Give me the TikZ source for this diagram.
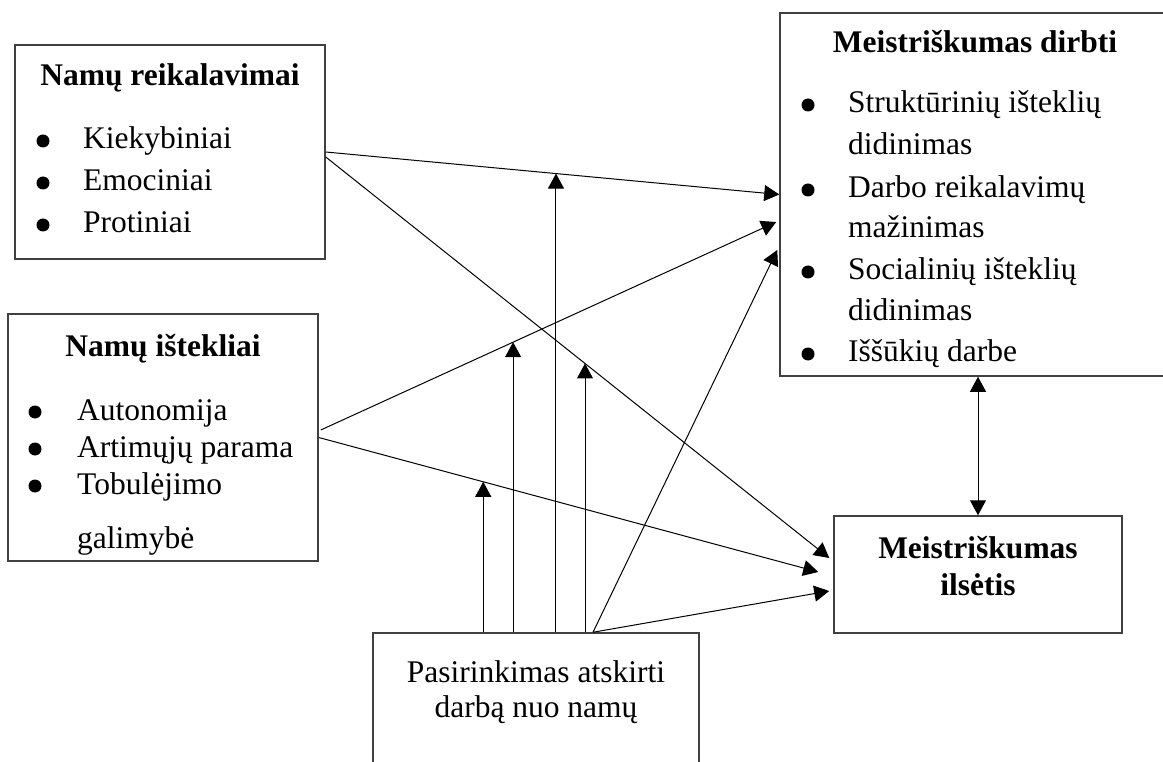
\documentclass[tikz,border=0pt]{standalone}
\usepackage{fontspec}
\setmainfont{Liberation Serif}
\usetikzlibrary{arrows.meta,calc}
\begin{document}
\begin{tikzpicture}[x=1pt,y=-1pt,
  box/.style={draw=black!75, line width=1.5pt, rectangle, inner sep=0pt},
  txt/.style={anchor=base west, inner sep=0pt, font=\fontsize{31.5}{37}\selectfont},
  ttl/.style={anchor=base, inner sep=0pt, font=\fontsize{31.5}{37}\selectfont\bfseries},
  ctr/.style={anchor=base, inner sep=0pt, font=\fontsize{31.5}{37}\selectfont},
  dot/.style={circle, fill=black, draw=none, inner sep=0pt, minimum size=13pt},
  arr/.style={line width=1pt, -{Triangle[length=15pt,width=16pt]}},
  darr/.style={line width=1pt, {Triangle[length=15pt,width=16pt]}-{Triangle[length=15pt,width=16pt]}}]
\useasboundingbox (0,0) rectangle (1163,762);
\clip (0,0) rectangle (1163,762);

% boxes
\node[box, minimum width=310pt, minimum height=214pt] (b1) at (170,152) {};
\node[box, minimum width=310pt, minimum height=247pt] (b2) at (163,437.5) {};
\node[box, minimum width=390pt, minimum height=363pt] (b3) at (975,194.5) {};
\node[box, minimum width=288pt, minimum height=117pt] (b4) at (978,574.5) {};
\node[box, minimum width=326pt, minimum height=167pt] (b5) at (536,716.5) {};

% box 1 text
\node[ttl] (t1) at (170,86) {Namų reikalavimai};
\node[dot] (t1b1) at (43,141) {};
\node[txt] (t1i1) at (83,149) {Kiekybiniai};
\node[dot] (t1b2) at (43,183) {};
\node[txt] (t1i2) at (83,191) {Emociniai};
\node[dot] (t1b3) at (43,225) {};
\node[txt] (t1i3) at (83,233) {Protiniai};

% box 2 text
\node[ttl] (t2) at (163,356) {Namų ištekliai};
\node[dot] (t2b1) at (35,412) {};
\node[txt] (t2i1) at (77,420) {Autonomija};
\node[dot] (t2b2) at (35,449) {};
\node[txt] (t2i2) at (77,457) {Artimųjų parama};
\node[dot] (t2b3) at (35,486) {};
\node[txt] (t2i3) at (77,494) {Tobulėjimo};
\node[txt] (t2i4) at (77,548) {galimybė};

% box 3 text
\node[ttl] (t3) at (975,53) {Meistriškumas dirbti};
\node[dot] (t3b1) at (808,105) {};
\node[txt] (t3i1) at (848,113) {Struktūrinių išteklių};
\node[txt] (t3i2) at (848,155) {didinimas};
\node[dot] (t3b2) at (808,190) {};
\node[txt] (t3i3) at (848,198) {Darbo reikalavimų};
\node[txt] (t3i4) at (848,238) {mažinimas};
\node[dot] (t3b3) at (808,272) {};
\node[txt] (t3i5) at (848,280) {Socialinių išteklių};
\node[txt] (t3i6) at (848,320) {didinimas};
\node[dot] (t3b4) at (808,354) {};
\node[txt] (t3i7) at (848,362) {Iššūkių darbe};

% box 4 text
\node[ttl] (t4a) at (978,558) {Meistriškumas};
\node[ttl] (t4b) at (978,595) {ilsėtis};

% box 5 text
\node[ctr] (t5a) at (536,682) {Pasirinkimas atskirti};
\node[ctr] (t5b) at (536,717) {darbą nuo namų};

% main connectors
\draw[arr] (b1.east) -- coordinate[pos=0.5077] (m1) (b3.west);
\draw[arr] ([yshift=-5pt]b1.east) -- coordinate[pos=0.5149] (m2) ([shift={(-4pt,16.5pt)}]b4.west);
\draw[arr] ([shift={(2pt,7.5pt)}]b2.east) -- coordinate[pos=0.4223] (m3) ([shift={(-3pt,-27.5pt)}]b3.west);
\draw[arr] (b2.east) -- coordinate[pos=0.3293] (m4) ([shift={(-15pt,2.5pt)}]b4.west);

% moderation arrows from box 5
\draw[arr] (m4 |- b5.north) -- (m4);
\draw[arr] (m3 |- b5.north) -- (m3);
\draw[arr] (m1 |- b5.north) -- (m1);
\draw[arr] (m2 |- b5.north) -- (m2);

% direct arrows from box 5
\coordinate (s5) at ([xshift=57pt]b5.north);
\draw[arr] (s5) -- ([shift={(-2pt,-55.5pt)}]b3.west);
\draw[arr] (s5) -- ([shift={(-4pt,-16.5pt)}]b4.west);

% double arrow
\draw[darr] (b4.north |- b3.south) -- (b4.north);
\end{tikzpicture}
\end{document}
